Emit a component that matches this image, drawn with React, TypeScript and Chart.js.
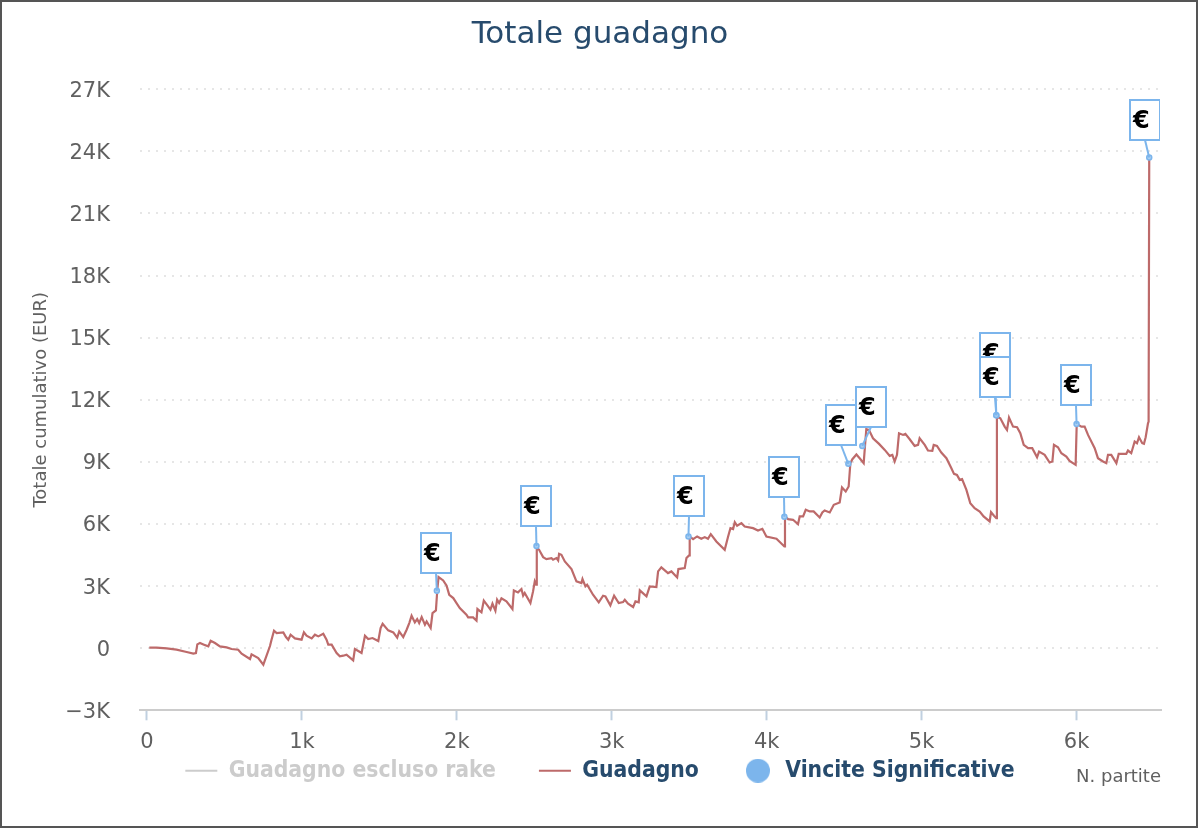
import { useEffect, useRef } from "react"
import { Chart, registerables } from "chart.js"

Chart.register(...registerables)

const partite = [
  15, 62, 127, 191, 256, 299, 316, 325, 342, 368, 396, 411, 439, 471, 514, 546, 589, 611, 665, 675, 718, 751, 794, 804,
  820, 837, 880, 897, 912, 927, 955, 998, 1013, 1030, 1063, 1084, 1106, 1138, 1159, 1170, 1192, 1224, 1245, 1267, 1288,
  1331, 1342, 1364, 1385, 1407, 1428, 1456, 1493, 1508, 1521, 1557, 1590, 1615, 1628, 1654, 1676, 1693, 1708, 1729,
  1744, 1757, 1773, 1794, 1805, 1831, 1843, 1865, 1874, 1882, 1912, 1934, 1951, 1977, 1998, 2019, 2062, 2073, 2105,
  2127, 2133, 2159, 2174, 2202, 2217, 2230, 2249, 2260, 2273, 2288, 2320, 2359, 2368, 2395, 2417, 2428, 2438, 2475,
  2492, 2503, 2512, 2516, 2531, 2557, 2578, 2611, 2621, 2643, 2654, 2660, 2675, 2697, 2740, 2772, 2804, 2811, 2830,
  2841, 2879, 2916, 2944, 2959, 2991, 3015, 3045, 3073, 3084, 3105, 3138, 3153, 3174, 3181, 3224, 3245, 3288, 3299,
  3320, 3363, 3385, 3422, 3430, 3471, 3482, 3499, 3503, 3525, 3551, 3578, 3600, 3621, 3639, 3675, 3729, 3751, 3766,
  3783, 3794, 3809, 3837, 3858, 3912, 3944, 3972, 3998, 4063, 4114, 4118, 4138, 4170, 4202, 4213, 4235, 4252, 4278,
  4303, 4342, 4359, 4374, 4407, 4433, 4471, 4486, 4510, 4529, 4540, 4553, 4579, 4600, 4626, 4635, 4643, 4660, 4686,
  4725, 4762, 4794, 4811, 4826, 4841, 4854, 4880, 4895, 4923, 4955, 4977, 4987, 5020, 5041, 5069, 5078, 5099, 5127,
  5160, 5192, 5209, 5228, 5246, 5261, 5289, 5314, 5342, 5375, 5400, 5439, 5448, 5467, 5482, 5486, 5508, 5536, 5551,
  5564, 5590, 5616, 5637, 5659, 5687, 5714, 5745, 5758, 5794, 5826, 5844, 5854, 5880, 5902, 5934, 5955, 5994, 6001,
  6031, 6052, 6074, 6117, 6138, 6171, 6192, 6203, 6224, 6257, 6272, 6321, 6332, 6353, 6375, 6390, 6403, 6424, 6435,
  6446, 6461, 6465, 6469,
]
const guadagno = [
  24, 24, -8, -72, -185, -265, -233, 185, 249, 169, 88, 362, 249, 88, 40, -40, -72, -265, -523, -297, -474, -796, 105,
  410, 844, 732, 764, 539, 410, 651, 474, 410, 764, 603, 474, 651, 571, 700, 410, 169, 169, -233, -394, -362, -314,
  -587, -40, -137, -233, 603, 442, 490, 346, 973, 1182, 860, 764, 506, 812, 539, 892, 1214, 1568, 1246, 1407, 1214,
  1503, 1134, 1294, 973, 1696, 1825, 2822, 3433, 3272, 3015, 2581, 2420, 2179, 1940, 1618, 1490, 1490, 1329, 1891,
  1731, 2294, 2020, 1859, 2149, 1811, 2342, 2181, 2406, 2261, 1891, 2792, 2696, 2856, 2535, 2664, 2181, 2744, 3226,
  3065, 4882, 4754, 4400, 4304, 4352, 4271, 4352, 4239, 4561, 4513, 4191, 3821, 3226, 3146, 3339, 2985, 3065, 2583,
  2213, 2535, 2503, 2069, 2535, 2181, 2229, 2342, 2149, 1988, 2261, 2213, 2792, 2503, 2985, 2953, 3709, 3902, 3628,
  3709, 3419, 3821, 3869, 4352, 4480, 5397, 5268, 5397, 5284, 5365, 5284, 5510, 5156, 4754, 5397, 5799, 5751, 6088,
  5912, 6040, 5879, 5799, 5686, 5767, 5397, 5285, 4915, 6363, 6234, 6202, 5993, 6363, 6363, 6684, 6604, 6604, 6315,
  6556, 6652, 6556, 6926, 7038, 7762, 7569, 7810, 8936, 9128, 9354, 9177, 8936, 9820, 10576, 10544, 10142, 9868, 9579,
  9289, 9338, 9016, 9338, 10383, 10302, 10350, 10093, 9772, 9820, 10142, 9820, 9547, 9531, 9820, 9772, 9450, 9177,
  8694, 8421, 8373, 8132, 8164, 7649, 7006, 6765, 6604, 6363, 6121, 6572, 6395, 6282, 11187, 11106, 10704, 10544,
  11139, 10704, 10672, 10383, 9820, 9659, 9659, 9225, 9498, 9338, 8968, 9016, 9820, 9707, 9418, 9257, 9048, 8855,
  10833, 10704, 10704, 10302, 9659, 9177, 9016, 8936, 9338, 9338, 8936, 9386, 9386, 9547, 9418, 9981, 9900, 10190,
  9900, 9868, 10190, 10865, 10945, 23700,
]

const vincitePartite = [1871, 2514, 3495, 4114, 4527, 4617, 5482, 5482, 6000, 6469]
const vinciteValori = [2774, 4931, 5397, 6347, 8903, 9772, 11251, 11251, 10833, 23700]

const xTicks = [0, 1000, 2000, 3000, 4000, 5000, 6000]
const legendNames = ["Guadagno escluso rake", "Guadagno", "Vincite Significative"]
const flagText = "€"

// box offset from its point, left edge and bottom edge
const flagOffsetX = [-16, -15, -14, -15, -22, -6, -16, -16, -16, -19]
const flagOffsetY = [-18, -20, -20, -20, -19, -19, -42, -18, -19, -18]

const FONT = "'DejaVu Sans', sans-serif"
const BLUE = "#7cb5ec"
const RED = "#bd6a6a"

const flagsPlugin = {
  id: "flags",
  afterDatasetsDraw(chart: Chart) {
    const { ctx, scales, chartArea } = chart
    ctx.save()
    ctx.beginPath()
    ctx.rect(0, 0, chartArea.right - 1, chart.height)
    ctx.clip()
    ctx.strokeStyle = BLUE
    ctx.lineWidth = 2
    vincitePartite.forEach((p, i) => {
      const x = scales.x.getPixelForValue(p)
      const y = scales.y.getPixelForValue(vinciteValori[i])
      const left = Math.round(x + flagOffsetX[i])
      const bottom = Math.round(y + flagOffsetY[i])
      ctx.beginPath()
      ctx.moveTo(left + 15, bottom)
      ctx.lineTo(x, y)
      ctx.stroke()
      ctx.fillStyle = "#ffffff"
      ctx.fillRect(left, bottom - 40, 30, 40)
      ctx.strokeRect(left, bottom - 40, 30, 40)
      ctx.fillStyle = "#000000"
      ctx.font = "bold 24px " + FONT
      ctx.textAlign = "left"
      ctx.textBaseline = "middle"
      ctx.fillText(flagText, left + 3, bottom - 18)
    })
    ctx.restore()
  },
}

// the legend shares its row with the x axis title, so pull it up next to the tick labels
const legendShiftPlugin = {
  id: "legendShift",
  afterLayout(chart: Chart) {
    if (chart.legend) chart.legend.top -= 34
  },
}

function circleIcon() {
  const c = document.createElement("canvas")
  c.width = 24
  c.height = 24
  const g = c.getContext("2d")
  if (g) {
    g.fillStyle = BLUE
    g.beginPath()
    g.arc(12, 12, 12, 0, Math.PI * 2)
    g.fill()
  }
  return c
}

export default function App() {
  const chartRef = useRef<HTMLCanvasElement>(null)

  useEffect(() => {
    if (!chartRef.current) return
    const ctx = chartRef.current.getContext("2d")
    if (!ctx) return

    const chart = new Chart(ctx, {
      type: "line",
      data: {
        datasets: [
          { label: legendNames[0], data: [], hidden: true, borderColor: "#cccccc" },
          {
            label: legendNames[1],
            data: partite.map((p, i) => ({ x: p, y: guadagno[i] })),
            borderColor: RED,
            borderWidth: 2.2,
            pointRadius: 0,
            tension: 0,
            order: 2,
          },
          {
            label: legendNames[2],
            data: vincitePartite.map((p, i) => ({ x: p, y: vinciteValori[i] })),
            showLine: false,
            pointRadius: 2.5,
            borderWidth: 1.5,
            borderColor: BLUE,
            backgroundColor: "#a8cff3",
            order: 1,
          },
        ],
      },
      plugins: [flagsPlugin, legendShiftPlugin],
      options: {
        responsive: false,
        animation: false,
        layout: { padding: { top: 16, bottom: 4 } },
        plugins: {
          tooltip: { enabled: false },
          title: {
            display: true,
            text: "Totale guadagno",
            color: "#274b6d",
            font: { family: FONT, size: 31, weight: "normal" },
            padding: { top: 0, bottom: 36 },
          },
          legend: {
            position: "bottom",
            labels: {
              padding: 43,
              usePointStyle: true,
              pointStyleWidth: 32,
              font: { family: "'DejaVu Sans Condensed', 'DejaVu Sans', sans-serif", size: 22.7, weight: "bold" },
              generateLabels: () => [
                { text: legendNames[0], fontColor: "#cccccc", pointStyle: "line", strokeStyle: "#cccccc", lineWidth: 2, hidden: false },
                { text: legendNames[1], fontColor: "#274b6d", pointStyle: "line", strokeStyle: RED, lineWidth: 2, hidden: false },
                { text: legendNames[2], fontColor: "#274b6d", pointStyle: circleIcon(), lineWidth: 0, hidden: false },
              ],
            },
          },
        },
        scales: {
          x: {
            type: "linear",
            min: -45,
            max: 6545,
            afterBuildTicks: (scale) => {
              scale.ticks = xTicks.map((value) => ({ value }))
            },
            afterFit: (scale) => {
              scale.height = 40
            },
            border: { color: "#cccccc", width: 2 },
            grid: { drawOnChartArea: false, tickColor: "#c0d0e0", tickWidth: 2, tickLength: 10 },
            ticks: {
              maxRotation: 0,
              autoSkip: false,
              padding: 10,
              color: "#606060",
              font: { family: FONT, size: 21 },
              callback: (v) => (v === 0 ? "0" : Number(v) / 1000 + "k"),
            },
            title: {
              display: true,
              text: "N. partite",
              align: "end",
              color: "#606060",
              font: { family: FONT, size: 18 },
              padding: { top: 0, bottom: -38 },
            },
          },
          y: {
            min: -3000,
            max: 27000,
            afterFit: (scale) => {
              scale.width = 140
            },
            border: { display: false, dash: [2, 6] },
            grid: { color: "#e6e6e6", lineWidth: 2, drawTicks: false },
            ticks: {
              stepSize: 3000,
              padding: 30,
              labelOffset: 2,
              color: "#606060",
              font: { family: FONT, size: 21 },
              callback: (v) => {
                const n = Number(v) / 1000
                if (n === 0) return "0"
                return (n < 0 ? "\u2212" + -n : n) + "K"
              },
            },
            title: {
              display: true,
              text: "Totale cumulativo (EUR)",
              color: "#606060",
              font: { family: FONT, size: 18 },
              padding: { top: 31, bottom: 0 },
            },
          },
          // empty axis that leaves the right margin while title and legend stay centred on the page
          gutter: {
            position: "right",
            afterFit: (scale) => {
              scale.width = 39
            },
            border: { display: false },
            grid: { display: false },
            ticks: { display: false },
          },
        },
      },
    })

    return () => {
      chart.destroy()
    }
  }, [])

  return (
    <div style={{ position: "absolute", left: 0, top: 0, width: 1200, height: 830, background: "#ffffff" }}>
      <div
        style={{
          position: "absolute",
          left: 0,
          top: 0,
          width: 1198,
          height: 828,
          boxSizing: "border-box",
          border: "2px solid #555555",
        }}
      />
      <canvas ref={chartRef} width={1200} height={830} style={{ position: "absolute", left: 0, top: 0 }}></canvas>
    </div>
  )
}
